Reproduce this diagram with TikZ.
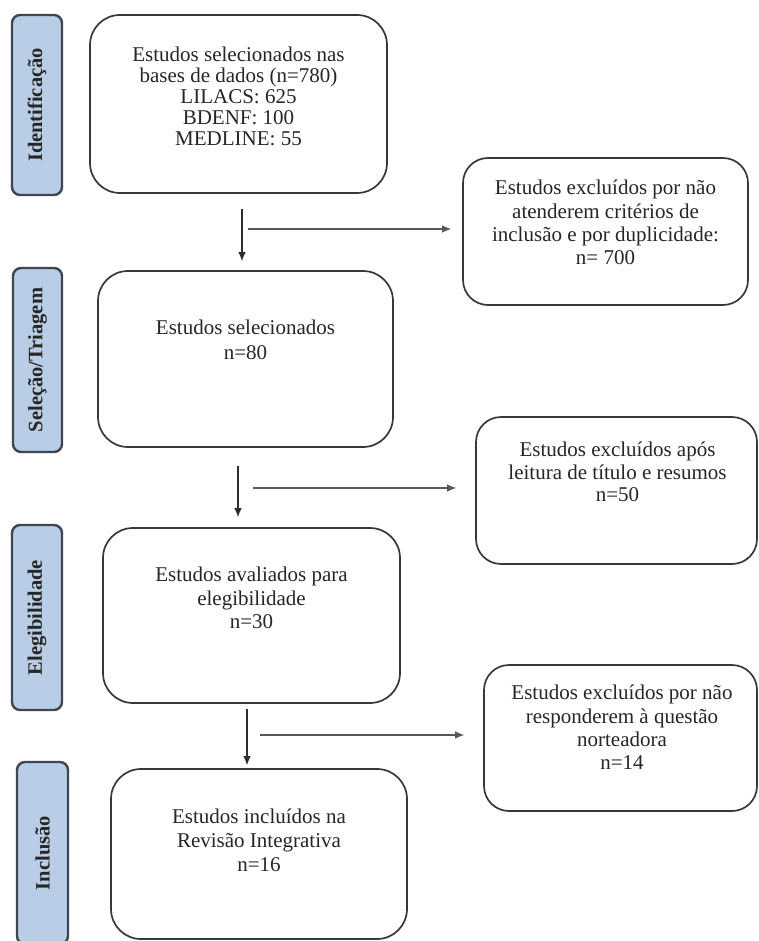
\documentclass[tikz,border=0pt]{standalone}
\usepackage{fontspec}
\setmainfont{Liberation Serif}
\usetikzlibrary{arrows.meta}
\definecolor{lblfill}{HTML}{B9CDE6}
\definecolor{lbldraw}{HTML}{3E4650}
\definecolor{boxdraw}{HTML}{383838}
\definecolor{txt}{HTML}{262626}
\definecolor{arrcol}{HTML}{2E2E2E}
\begin{document}
\begin{tikzpicture}[x=1pt,y=-1pt,
  phase/.style={draw=lbldraw, fill=lblfill, line width=2.4pt, rounded corners=8pt, inner sep=0pt,
    rotate=90, font=\fontsize{20.5}{22}\selectfont\bfseries, text=black!85},
  mainbox/.style={draw=boxdraw, line width=1.7pt, rounded corners=30pt, inner sep=0pt},
  sidebox/.style={draw=boxdraw, line width=1.7pt, rounded corners=25pt, inner sep=0pt},
  boxtext/.style={anchor=north, inner sep=0pt, align=center, text=txt,
    font=\fontsize{21}{#1}\selectfont},
  arr/.style={draw=arrcol, line width=1.1pt, -{Latex[length=9pt,width=7.5pt]}},
  harr/.style={draw=arrcol!80, line width=1.1pt, -{Latex[length=9pt,width=7.5pt]}}
]
\useasboundingbox (0,0) rectangle (758,941);
\clip (0,0) rectangle (758,941);
\fill[white] (0,0) rectangle (758,941);

% phase labels
\node[phase, minimum width=180pt, minimum height=50pt] (L1) at (37,105) {Identificação};
\node[phase, minimum width=184pt, minimum height=49pt] (L2) at (37.5,360) {Seleção/Triagem};
\node[phase, minimum width=185pt, minimum height=50pt] (L3) at (37,617.5) {Elegibilidade};
\node[phase, minimum width=182pt, minimum height=51pt] (L4) at (42.5,853) {Inclusão};

% main boxes
\node[mainbox, minimum width=297pt, minimum height=178pt] (B1) at (238.5,104) {};
\node[mainbox, minimum width=295pt, minimum height=176pt] (B2) at (245.5,359) {};
\node[mainbox, minimum width=297pt, minimum height=175pt] (B3) at (251.5,615.5) {};
\node[mainbox, minimum width=296pt, minimum height=170pt] (B4) at (259,854) {};

% side boxes
\node[sidebox, minimum width=285pt, minimum height=147pt] (R1) at (605.5,231.5) {};
\node[sidebox, minimum width=281pt, minimum height=147pt] (R2) at (616.5,490.5) {};
\node[sidebox, minimum width=273pt, minimum height=146pt] (R3) at (620.5,738) {};

% texts
\node[boxtext=21pt] (T1) at (238.5,47) {Estudos selecionados nas\\bases de dados (n=780)\\LILACS: 625\\BDENF: 100\\MEDLINE: 55};
\node[boxtext=25pt] (T2) at (245.5,320) {Estudos selecionados\\n=80};
\node[boxtext=23.5pt] (T3) at (251.5,567) {Estudos avaliados para\\elegibilidade\\n=30};
\node[boxtext=24pt] (T4) at (259,809) {Estudos incluídos na\\Revisão Integrativa\\n=16};
\node[boxtext=23.3pt] (S1) at (605.5,180) {Estudos excluídos por não\\atenderem critérios de\\inclusão e por duplicidade:\\n= 700};
\node[boxtext=22.5pt] (S2) at (617.5,442) {Estudos excluídos após\\leitura de título e resumos\\n=50};
\node[boxtext=23.3pt] (S3) at (622,685) {Estudos excluídos por não\\responderem à questão\\norteadora\\n=14};

% vertical connectors
\coordinate (v1) at (242,0);
\coordinate (v2) at (238,0);
\coordinate (v3) at (247,0);
\draw[arr, shorten <=15pt, shorten >=9pt] (B1.south -| v1) -- (B2.north -| v1);
\draw[arr, shorten <=18pt, shorten >=10pt] (B2.south -| v2) -- (B3.north -| v2);
\draw[arr, shorten <=5pt, shorten >=3pt] (B3.south -| v3) -- (B4.north -| v3);

% horizontal connectors
\coordinate (h1) at (248,229);
\coordinate (h2) at (253,488);
\coordinate (h3) at (260,735);
\draw[harr, shorten >=11pt] (h1) -- (h1 -| R1.west);
\draw[harr, shorten >=19pt] (h2) -- (h2 -| R2.west);
\draw[harr, shorten >=19pt] (h3) -- (h3 -| R3.west);
\end{tikzpicture}
\end{document}
